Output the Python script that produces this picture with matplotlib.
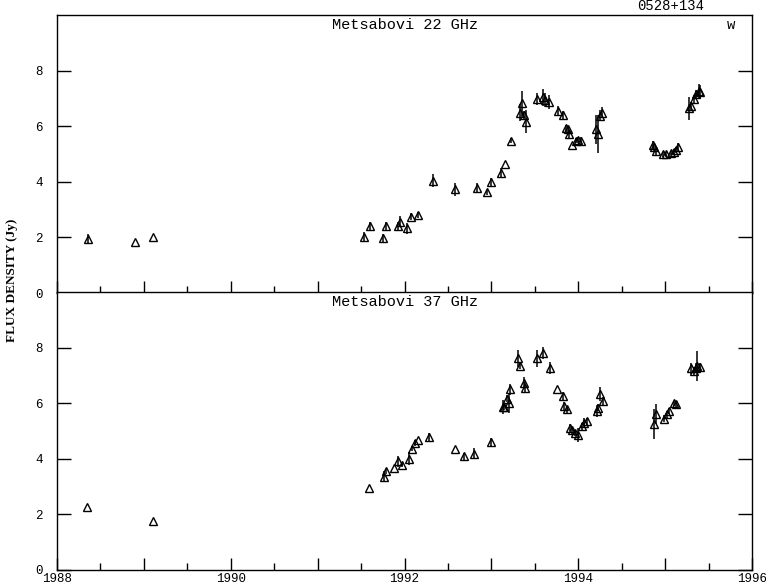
import numpy as np
import matplotlib.pyplot as plt
from matplotlib.ticker import MultipleLocator, FuncFormatter

# -----------------------------
# Metsahovi 22 GHz (top panel)
# -----------------------------
t22 = [1988.36, 1988.90, 1989.10, 1991.53, 1991.60, 1991.75, 1991.79, 1991.93,
       1991.95, 1992.03, 1992.08, 1992.16, 1992.33, 1992.58, 1992.83, 1992.95,
       1992.99, 1993.11, 1993.16, 1993.23, 1993.33, 1993.35, 1993.38, 1993.40,
       1993.52, 1993.59, 1993.62, 1993.66, 1993.77, 1993.82, 1993.86, 1993.88,
       1993.89, 1993.93, 1993.97, 1994.00, 1994.03, 1994.21, 1994.23, 1994.25,
       1994.27, 1994.86, 1994.87, 1994.90, 1994.98, 1995.01, 1995.07, 1995.10,
       1995.12, 1995.15, 1995.28, 1995.30, 1995.33, 1995.35, 1995.39, 1995.40]
s22 = [1.93, 1.82, 2.00, 2.00, 2.41, 1.98, 2.41, 2.41,
       2.57, 2.33, 2.74, 2.81, 4.04, 3.73, 3.79, 3.62,
       4.00, 4.30, 4.65, 5.48, 6.49, 6.82, 6.40, 6.16,
       6.97, 7.04, 6.94, 6.88, 6.56, 6.40, 5.92, 5.89,
       5.72, 5.32, 5.48, 5.50, 5.48, 5.89, 5.72, 6.37,
       6.49, 5.32, 5.24, 5.12, 4.99, 4.99, 5.03, 5.08,
       5.14, 5.24, 6.64, 6.73, 6.97, 7.16, 7.28, 7.24]
e22 = [0.18, 0.0, 0.0, 0.18, 0.15, 0.15, 0.15, 0.15,
       0.20, 0.20, 0.12, 0.12, 0.24, 0.24, 0.18, 0.10,
       0.15, 0.18, 0.0, 0.10, 0.30, 0.45, 0.15, 0.42,
       0.22, 0.30, 0.25, 0.25, 0.15, 0.15, 0.12, 0.12,
       0.15, 0.0, 0.10, 0.12, 0.12, 0.53, 0.69, 0.20,
       0.20, 0.15, 0.12, 0.18, 0.08, 0.08, 0.08, 0.10,
       0.12, 0.15, 0.42, 0.15, 0.15, 0.15, 0.25, 0.25]

# -----------------------------
# Metsahovi 37 GHz (bottom panel)
# -----------------------------
t37 = [1988.34, 1989.11, 1991.59, 1991.76, 1991.79, 1991.88, 1991.93, 1991.97,
       1992.05, 1992.09, 1992.12, 1992.16, 1992.28, 1992.58, 1992.68, 1992.80,
       1993.00, 1993.13, 1993.15, 1993.18, 1993.20, 1993.22, 1993.31, 1993.33,
       1993.37, 1993.39, 1993.52, 1993.59, 1993.67, 1993.76, 1993.83, 1993.84,
       1993.87, 1993.90, 1993.93, 1993.96, 1994.00, 1994.04, 1994.07, 1994.10,
       1994.22, 1994.23, 1994.25, 1994.28, 1994.87, 1994.90, 1994.99, 1995.02,
       1995.05, 1995.10, 1995.12, 1995.30, 1995.33, 1995.35, 1995.37, 1995.40]
s37 = [2.26, 1.76, 2.95, 3.35, 3.55, 3.67, 3.91, 3.79,
       4.01, 4.37, 4.57, 4.69, 4.79, 4.37, 4.09, 4.19,
       4.60, 5.87, 5.87, 6.16, 6.02, 6.50, 7.61, 7.34,
       6.74, 6.56, 7.61, 7.80, 7.28, 6.50, 6.26, 5.90,
       5.78, 5.12, 5.03, 4.93, 4.84, 5.17, 5.30, 5.35,
       5.72, 5.84, 6.32, 6.08, 5.24, 5.61, 5.44, 5.60,
       5.72, 5.99, 5.96, 7.25, 7.16, 7.28, 7.34, 7.30]
e37 = [0.0, 0.0, 0.0, 0.20, 0.10, 0.0, 0.19, 0.10,
       0.22, 0.10, 0.12, 0.0, 0.15, 0.0, 0.12, 0.20,
       0.15, 0.25, 0.12, 0.12, 0.36, 0.20, 0.30, 0.12,
       0.20, 0.20, 0.30, 0.22, 0.22, 0.0, 0.15, 0.15,
       0.12, 0.12, 0.12, 0.12, 0.25, 0.12, 0.15, 0.12,
       0.20, 0.12, 0.25, 0.15, 0.54, 0.36, 0.12, 0.12,
       0.12, 0.10, 0.10, 0.20, 0.15, 0.15, 0.53, 0.15]

panels = [("Metsabovi 22 GHz", t22, s22, e22),
          ("Metsabovi 37 GHz", t37, s37, e37)]

mono = "Liberation Mono"

fig = plt.figure(figsize=(7.66, 5.85), dpi=100)
ax_top = fig.add_axes([57/766, (585-293)/585, 695/766, 278/585])
ax_bot = fig.add_axes([57/766, 15/585, 695/766, 278/585], sharex=ax_top)

for ax, (title, t, s, e) in zip([ax_top, ax_bot], panels):
    ax.errorbar(t, s, yerr=e, fmt='^', ms=5.5, mfc='none', mec='black',
                mew=1.0, ecolor='black', elinewidth=1.1, capsize=0)
    ax.set_xlim(1988, 1996)
    ax.set_ylim(0, 10)
    ax.text(0.5, 0.965, title, transform=ax.transAxes, ha='center', va='center',
            fontsize=11, family=mono)
    ax.set_yticks([0, 2, 4, 6, 8])
    ax.xaxis.set_major_locator(MultipleLocator(1))
    ax.xaxis.set_minor_locator(MultipleLocator(0.5))
    ax.tick_params(axis='y', which='major', direction='in', length=10, width=1,
                   left=True, right=True, pad=10, labelsize=9)
    ax.tick_params(axis='x', which='major', direction='in', length=8.5, width=1,
                   top=False, bottom=True, pad=2, labelsize=9)
    ax.tick_params(axis='x', which='minor', direction='in', length=5, width=1,
                   top=False, bottom=True)
    for lab in ax.get_yticklabels() + ax.get_xticklabels():
        lab.set_family(mono)
    for sp in ax.spines.values():
        sp.set_linewidth(1.0)

ax_top.tick_params(axis='x', labelbottom=False)
ax_bot.xaxis.set_major_formatter(
    FuncFormatter(lambda v, p: "%d" % round(v) if round(v) % 2 == 0 else ""))
for lab in ax_bot.get_xticklabels():
    lab.set_family(mono)

ax_top.text(0.97, 0.965, "w", transform=ax_top.transAxes, ha='center',
            va='center', fontsize=10, family=mono)
fig.text(671/766, 1 - 6/585, "0528+134", ha='center', va='center',
         fontsize=10, family=mono)
fig.text(12/766, 1 - 280/585, "FLUX DENSITY (Jy)", rotation=90, ha='center',
         va='center', fontsize=9.5, family="Liberation Serif", weight='bold')

plt.savefig("out.png", dpi=100)
